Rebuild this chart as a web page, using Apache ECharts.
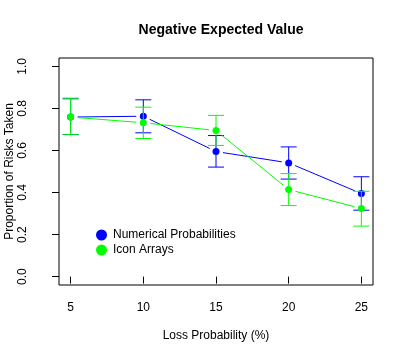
<!DOCTYPE html>
<html>
<head>
<meta charset="utf-8">
<script src="https://cdn.jsdelivr.net/npm/echarts@6/dist/echarts.min.js"></script>
<style>html,body{margin:0;padding:0;background:#fff}#chart{width:404px;height:359px}</style>
</head>
<body>
<div id="chart"></div>
<script>
const xValues = [5, 10, 15, 20, 25];
const numericalMean = [0.759, 0.763, 0.595, 0.541, 0.395];
const numericalLower = [0.676, 0.684, 0.521, 0.464, 0.316];
const numericalUpper = [0.846, 0.841, 0.671, 0.617, 0.475];
const iconMean = [0.759, 0.732, 0.695, 0.414, 0.324];
const iconLower = [0.675, 0.657, 0.624, 0.338, 0.240];
const iconUpper = [0.849, 0.806, 0.767, 0.490, 0.406];
const xTicks = [5, 10, 15, 20, 25];
const yTicks = [0, 0.2, 0.4, 0.6, 0.8, 1.0];
const seriesNames = ['Numerical Probabilities', 'Icon Arrays'];
const seriesColors = ['#0000ff', '#00ff00'];

const FONT = 'Liberation Sans, Arial, Helvetica, sans-serif';
const chart = echarts.init(document.getElementById('chart'), null, {renderer: 'canvas'});

function segData(means) {
  const out = [];
  for (let i = 0; i < xValues.length - 1; i++) {
    out.push([xValues[i], means[i], xValues[i + 1], means[i + 1]]);
  }
  return out;
}
function barData(lower, upper) {
  return xValues.map((x, i) => [x, lower[i], upper[i]]);
}
function lineRender(color) {
  return function (params, api) {
    const a = api.coord([api.value(0), api.value(1)]);
    const b = api.coord([api.value(2), api.value(3)]);
    const dx = b[0] - a[0], dy = b[1] - a[1];
    const len = Math.sqrt(dx * dx + dy * dy);
    const gap = 7;
    if (len <= 2 * gap) return null;
    const ux = dx / len, uy = dy / len;
    return {
      type: 'line',
      shape: {x1: a[0] + ux * gap, y1: a[1] + uy * gap, x2: b[0] - ux * gap, y2: b[1] - uy * gap},
      style: {stroke: color, lineWidth: 1}
    };
  };
}
function barRender(color) {
  return function (params, api) {
    const lo = api.coord([api.value(0), api.value(1)]);
    const hi = api.coord([api.value(0), api.value(2)]);
    const w = 8;
    const st = {stroke: color, lineWidth: 1};
    return {
      type: 'group',
      children: [
        {type: 'line', shape: {x1: lo[0], y1: lo[1], x2: hi[0], y2: hi[1]}, style: st},
        {type: 'line', shape: {x1: lo[0] - w, y1: lo[1], x2: lo[0] + w, y2: lo[1]}, style: st},
        {type: 'line', shape: {x1: hi[0] - w, y1: hi[1], x2: hi[0] + w, y2: hi[1]}, style: st}
      ]
    };
  };
}

const groups = [
  {mean: numericalMean, lower: numericalLower, upper: numericalUpper},
  {mean: iconMean, lower: iconLower, upper: iconUpper}
];
const series = [];
groups.forEach((g, k) => {
  series.push({
    type: 'custom', name: seriesNames[k] + ' line', data: segData(g.mean),
    renderItem: lineRender(seriesColors[k]), encode: {x: [0, 2], y: [1, 3]}, silent: true, z: 2 + k * 3
  });
  series.push({
    type: 'custom', name: seriesNames[k] + ' err', data: barData(g.lower, g.upper),
    renderItem: barRender(seriesColors[k]), encode: {x: 0, y: [1, 2]}, silent: true, z: 3 + k * 3
  });
  series.push({
    type: 'scatter', name: seriesNames[k], data: xValues.map((x, i) => [x, g.mean[i]]),
    symbol: 'circle', symbolSize: 7, itemStyle: {color: seriesColors[k], opacity: 1}, z: 4 + k * 3
  });
});

chart.setOption({
  animation: false,
  backgroundColor: '#fff',
  title: {
    text: 'Negative Expected Value', left: 216, top: 18, textAlign: 'center',
    textStyle: {fontFamily: FONT, fontSize: 14, fontWeight: 'bold', color: '#000'}
  },
  legend: {
    data: seriesNames.map((n, k) => ({name: n, icon: 'circle', itemStyle: {color: seriesColors[k], opacity: 1}})),
    orient: 'vertical', left: 96, top: 229, itemWidth: 11, itemHeight: 11, itemGap: 3, padding: 0,
    textStyle: {fontFamily: FONT, fontSize: 12, color: '#000', padding: [0, 0, 0, 1]}
  },
  grid: {left: 59, right: 31, top: 58, bottom: 74, outerBoundsMode: 'none', containLabel: false,
    show: true, borderColor: '#000', borderWidth: 1, backgroundColor: 'transparent'},
  xAxis: {
    type: 'value', min: 4.2, max: 25.8,
    name: 'Loss Probability (%)', nameLocation: 'middle', nameGap: 45, nameMoveOverlap: false,
    nameTextStyle: {fontFamily: FONT, fontSize: 12, color: '#000'},
    axisLine: {show: false},
    axisTick: {show: true, customValues: xTicks, length: 7, lineStyle: {color: '#000'}},
    axisLabel: {customValues: xTicks, margin: 17, fontFamily: FONT, fontSize: 12, color: '#000'},
    splitLine: {show: false}
  },
  yAxis: {
    type: 'value', min: -0.04, max: 1.04,
    name: 'Proportion of Risks Taken', nameLocation: 'middle', nameGap: 43, nameRotate: 90, nameMoveOverlap: false,
    nameTextStyle: {fontFamily: FONT, fontSize: 12, color: '#000'},
    axisLine: {show: false},
    axisTick: {show: true, customValues: yTicks, length: 7, lineStyle: {color: '#000'}},
    axisLabel: {customValues: yTicks, rotate: 90, margin: 30, fontFamily: FONT, fontSize: 12, color: '#000',
      formatter: v => Number(v).toFixed(1)},
    splitLine: {show: false}
  },
  series: series
});
</script>
</body>
</html>
